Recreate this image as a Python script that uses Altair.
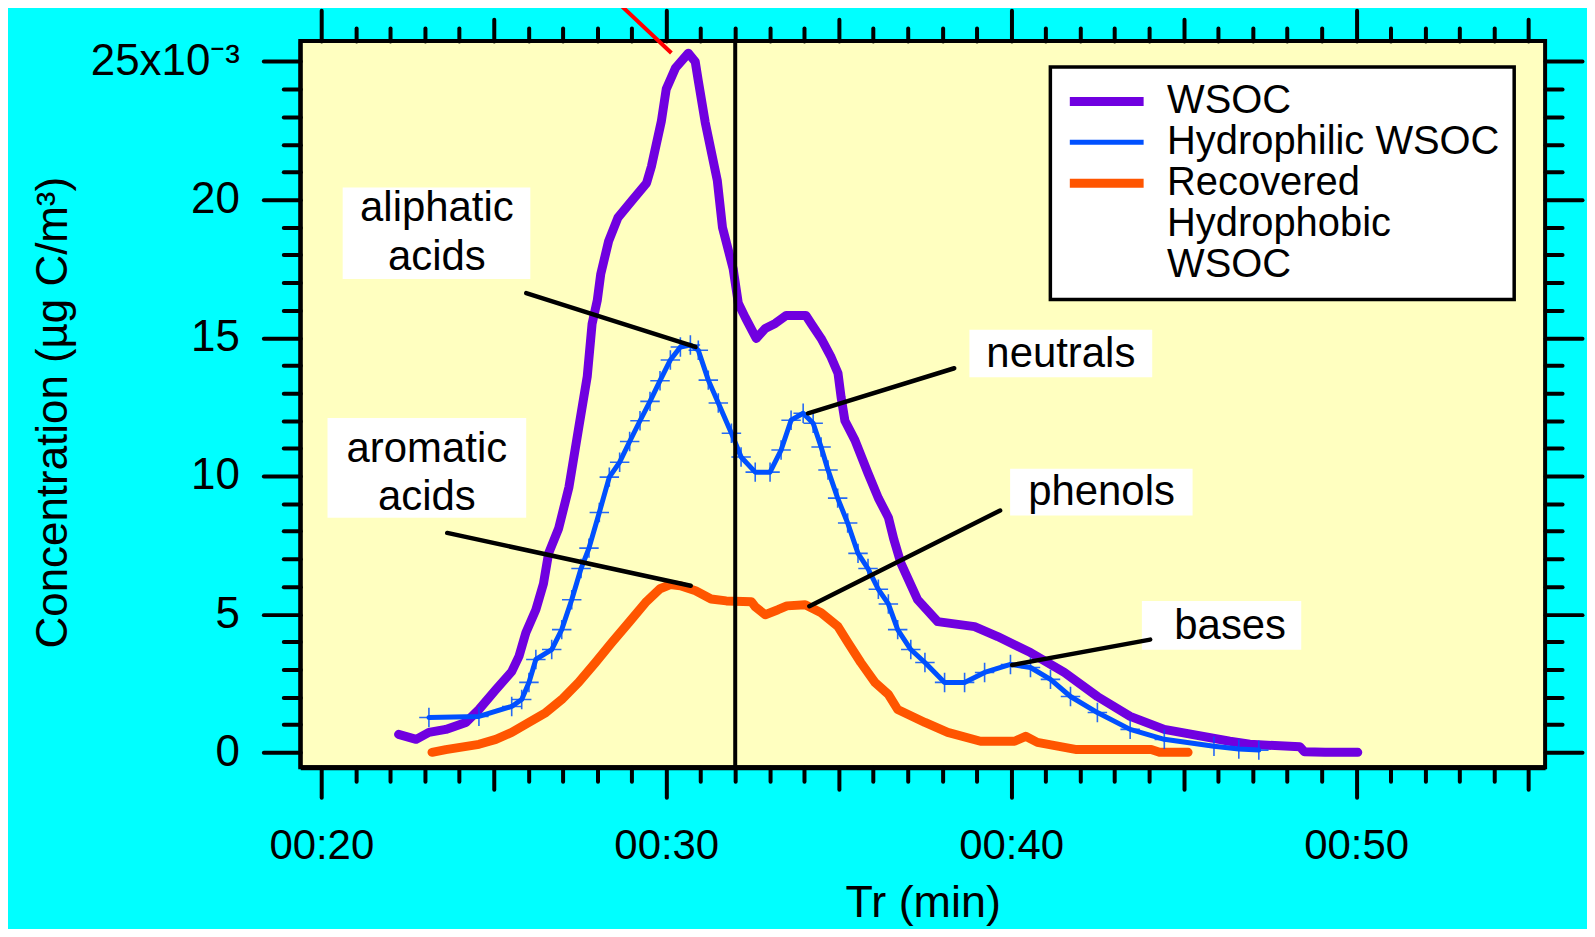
import altair as alt
import pandas as pd

# ---------------- data (minutes, 10^-3 ug C/m3) ----------------
wsoc_t = [22.24, 22.75, 23.12, 23.61, 24.19, 24.57, 25.06, 25.52, 25.73, 25.93, 26.22, 26.44, 26.59, 26.88,
          27.18, 27.47, 27.71, 27.85, 28.0, 28.1, 28.33, 28.6, 29.0, 29.43, 29.57, 29.86, 30.0, 30.27, 30.64,
          30.84, 30.93, 31.13, 31.48, 31.63, 31.94, 32.09, 32.29, 32.61, 32.87, 33.16, 33.48, 34.05, 34.2,
          34.49, 34.78, 34.98, 35.07, 35.18, 35.47, 35.85, 36.15, 36.44, 36.6, 36.8, 37.29, 37.87, 38.94,
          39.61, 40.56, 41.54, 42.5, 43.45, 44.44, 46.34, 46.92, 48.37, 48.5, 49.1, 50.05]
wsoc_c = [0.65, 0.47, 0.72, 0.83, 1.08, 1.55, 2.27, 2.92, 3.47, 4.33, 5.16, 6.1, 7.2, 8.1,
          9.6, 11.8, 13.6, 15.5, 16.35, 17.3, 18.5, 19.35, 19.96, 20.6, 21.2, 22.85, 24.0, 24.77, 25.3,
          25.0, 24.3, 22.8, 20.7, 19.0, 17.5, 16.25, 15.74, 14.98, 15.34, 15.52, 15.81, 15.81, 15.52,
          14.98, 14.3, 13.72, 12.85, 12.0, 11.3, 10.1, 9.2, 8.5, 7.7, 6.86, 5.52, 4.73, 4.55,
          4.19, 3.61, 2.89, 2.02, 1.3, 0.83, 0.4, 0.29, 0.2, 0.02, 0.0, 0.0]

hydro_t = [23.12, 24.57, 25.52, 25.81, 26.02, 26.22, 26.68, 26.97, 27.26, 27.53, 27.76, 28.06, 28.35, 28.65,
           28.94, 29.24, 29.53, 29.82, 30.12, 30.41, 30.7, 30.93, 31.22, 31.51, 31.89, 32.17, 32.58, 33.01,
           33.33, 33.62, 33.97, 34.26, 34.49, 34.69, 34.97, 35.26, 35.56, 35.85, 36.15, 36.44, 36.71, 37.09,
           37.5, 38.07, 38.65, 39.23, 39.98, 40.56, 41.14, 41.72, 42.5, 43.45, 44.44, 45.88, 46.6, 47.18]
hydro_c = [1.26, 1.3, 1.66, 1.91, 2.53, 3.36, 3.72, 4.44, 5.52, 6.65, 7.39, 8.68, 9.96, 10.5,
           11.25, 12.0, 12.7, 13.45, 14.2, 14.67, 14.74, 14.55, 13.47, 12.64, 11.55, 10.69, 10.14, 10.14,
           10.94, 12.02, 12.27, 11.91, 11.05, 10.22, 9.2, 8.3, 7.2, 6.65, 5.9, 5.37, 4.44, 3.72,
           3.25, 2.53, 2.53, 2.89, 3.18, 3.07, 2.64, 2.02, 1.44, 0.83, 0.47, 0.22, 0.12, 0.08]

recov_t = [23.21, 23.61, 24.57, 25.06, 25.52, 26.02, 26.51, 26.97, 27.46, 27.95, 28.42, 28.91, 29.4, 29.82,
           30.12, 30.41, 30.85, 31.3, 31.74, 32.47, 32.58, 32.87, 33.24, 33.5, 34.03, 34.49, 34.98, 35.27,
           35.64, 36.05, 36.44, 36.71, 37.5, 38.16, 39.11, 40.1, 40.42, 40.76, 41.9, 44.06, 44.3, 45.13]
recov_c = [0.0, 0.1, 0.29, 0.47, 0.72, 1.08, 1.44, 1.91, 2.53, 3.25, 3.97, 4.69, 5.42, 5.92,
           6.07, 6.03, 5.85, 5.55, 5.48, 5.45, 5.27, 4.98, 5.16, 5.3, 5.34, 5.05, 4.55, 3.97,
           3.25, 2.53, 2.1, 1.55, 1.08, 0.72, 0.4, 0.4, 0.58, 0.36, 0.1, 0.1, 0.0, 0.0]

series_names = ["WSOC", "Hydrophilic WSOC", "Recovered"]
legend_domain = ["WSOC", "Hydrophilic WSOC", "Recovered", " Hydrophobic", " WSOC"]
legend_colors = ["#7000E0", "#0050FF", "#FF5500", "transparent", "transparent"]
legend_widths = [9, 5, 9, 0, 0]

# annotations
ann_labels = ["aliphatic\nacids", "aromatic\nacids", "neutrals", "phenols", "bases"]
ann_tx = [23.35, 23.06, 41.44, 42.62, 46.35]
ann_ty = [19.71, 10.99, 14.41, 9.41, 4.56]
box_x1 = [20.62, 20.18, 38.79, 39.97, 43.79]
box_x2 = [26.06, 25.94, 44.09, 45.26, 48.41]
box_y1 = [20.44, 12.10, 15.29, 10.26, 5.48]
box_y2 = [17.13, 8.49, 13.57, 8.57, 3.71]
ptr_x1 = [25.94, 23.65, 38.35, 39.68, 44.03]
ptr_y1 = [16.62, 7.94, 13.9, 8.75, 4.08]
ptr_x2 = [30.85, 30.71, 34.11, 34.15, 40.03]
ptr_y2 = [14.67, 6.03, 12.27, 5.29, 3.16]
red_x = [28.56, 30.15]
red_y = [27.18, 25.31]
vline_x = [32]

x_major = [20, 30, 40, 50]
x_mid = [25, 35, 45, 55]
x_minor = [i for i in range(21, 55) if i % 5 != 0]
y_major = [0, 5, 10, 15, 20, 25]
y_minor = [i for i in range(1, 25) if i % 5 != 0]

# ---------------- tables ----------------
curves = pd.concat([
    pd.DataFrame({"t": wsoc_t, "c": wsoc_c, "series": series_names[0]}),
    pd.DataFrame({"t": hydro_t, "c": hydro_c, "series": series_names[1]}),
    pd.DataFrame({"t": recov_t, "c": recov_c, "series": series_names[2]}),
], ignore_index=True)
ann_df = pd.DataFrame({"label": ann_labels, "tx": ann_tx, "ty": ann_ty,
                       "bx1": box_x1, "bx2": box_x2, "by1": box_y1, "by2": box_y2,
                       "px1": ptr_x1, "py1": ptr_y1, "px2": ptr_x2, "py2": ptr_y2})
red_df = pd.DataFrame({"x1": [red_x[0]], "y1": [red_y[0]], "x2": [red_x[1]], "y2": [red_y[1]]})
vline_df = pd.DataFrame({"vx": vline_x})

FONT = "Liberation Sans"
xs = alt.Scale(domain=[19.39, 55.48], nice=False, zero=False)
ys = alt.Scale(domain=[-0.54, 25.74], nice=False, zero=False)


def ax(orient, values, size, **kw):
    base = dict(orient=orient, values=values, tickSize=size, tickWidth=4, tickColor="black",
                tickCap="round", grid=False, domain=False, labels=False, title=None)
    base.update(kw)
    return alt.Axis(**base)


bottom_major = ax("bottom", x_major, 30, labels=True,
                  labelExpr="'00:' + format(datum.value, '02d')", labelFont=FONT, labelFontSize=42,
                  labelColor="black", labelPadding=28, labelFlush=False, labelOverlap=False,
                  title="Tr (min)", titleFont=FONT, titleFontSize=45, titleFontWeight="normal",
                  titleColor="black", titleX=624, titleY=136, titleAlign="center", titleBaseline="middle",
                  domain=True, domainColor="black", domainWidth=5)
bottom_mid = ax("bottom", x_mid, 22)
bottom_minor = ax("bottom", x_minor, 14)
top_major = ax("top", x_major, 31)
top_mid = ax("top", x_mid, 22)
top_minor = ax("top", x_minor, 13)
left_major = ax("left", y_major, 37, labels=True,
                labelExpr="datum.value == 25 ? '25x10\u207b\u00b3' : datum.label",
                labelFont=FONT, labelFontSize=44, labelColor="black", labelPadding=24,
                labelFlush=False, labelOverlap=False,
                title="Concentration (\u00b5g C/m\u00b3)", titleFont=FONT, titleFontSize=44,
                titleFontWeight="normal", titleColor="black", titleX=-247, titleY=372,
                titleAngle=270, titleAlign="center", titleBaseline="middle",
                domain=True, domainColor="black", domainWidth=4)
left_minor = ax("left", y_minor, 17)
right_major = ax("right", y_major, 37)
right_minor = ax("right", y_minor, 17)

leg = alt.Legend(title=None, orient="none", legendX=752, legendY=26, symbolType="stroke",
                 symbolSize=5476, clipHeight=41, rowPadding=0, padding=14, fillColor="white",
                 strokeColor="black", labelFont=FONT, labelFontSize=40, labelColor="black",
                 labelExpr="trim(datum.label)", labelOffset=19, symbolOffset=1, labelLimit=1000)
color_enc = alt.Color("series:N", scale=alt.Scale(domain=legend_domain, range=legend_colors), legend=leg)
width_enc = alt.StrokeWidth("series:N", scale=alt.Scale(type="ordinal", domain=legend_domain,
                                                         range=legend_widths), legend=leg)


def curve(name, xaxis, yaxis):
    return alt.Chart(curves).transform_filter(alt.datum.series == name).mark_line(
        strokeCap="round", strokeJoin="round").encode(
        x=alt.X("t:Q", scale=xs, axis=xaxis),
        y=alt.Y("c:Q", scale=ys, axis=yaxis),
        color=color_enc, strokeWidth=width_enc)


wsoc = curve("WSOC", bottom_major, left_major)
recov = curve("Recovered", bottom_mid, left_minor)
hydro = curve("Hydrophilic WSOC", bottom_minor, right_major)

cross = alt.Chart(curves).transform_filter(alt.datum.series == "Hydrophilic WSOC").mark_point(
    shape="M-1,0H1M0,-1V1", filled=False, size=380, strokeWidth=1.6, color="#0050FF", opacity=0.85).encode(
    x=alt.X("t:Q", scale=xs, axis=top_major),
    y=alt.Y("c:Q", scale=ys, axis=right_minor))

boxes = alt.Chart(ann_df).mark_rect(color="white").encode(
    x=alt.X("bx1:Q", scale=xs, axis=top_mid), x2="bx2:Q",
    y=alt.Y("by1:Q", scale=ys, axis=None), y2="by2:Q")

texts = alt.Chart(ann_df).mark_text(font=FONT, fontSize=42, lineBreak="\n", lineHeight=49,
                                    color="black", align="center", baseline="middle").encode(
    x=alt.X("tx:Q", scale=xs, axis=top_minor),
    y=alt.Y("ty:Q", scale=ys, axis=None),
    text="label:N")

vline = alt.Chart(vline_df).mark_rule(color="black", strokeWidth=4).encode(
    x=alt.X("vx:Q", scale=xs, axis=None))

pointers = alt.Chart(ann_df).mark_rule(color="black", strokeWidth=4.5, strokeCap="round").encode(
    x=alt.X("px1:Q", scale=xs, axis=None), y=alt.Y("py1:Q", scale=ys, axis=None),
    x2="px2:Q", y2="py2:Q")

red = alt.Chart(red_df).mark_rule(color="#FF0000", strokeWidth=4).encode(
    x=alt.X("x1:Q", scale=xs, axis=None), y=alt.Y("y1:Q", scale=ys, axis=None),
    x2="x2:Q", y2="y2:Q")

chart = alt.layer(boxes, texts, wsoc, recov, hydro, cross, vline, pointers, red).resolve_axis(
    x="independent", y="independent").properties(
    width=1248, height=728,
    autosize=alt.AutoSizeParams(type="none"),
    padding={"left": 293, "top": 32, "right": 42, "bottom": 161},
    background="#00FFFF",
).configure_view(fill="#FFFFC0", stroke="black", strokeWidth=4).configure_legend(strokeWidth=3.5)

chart.save("out.html", embed_options={"renderer": "svg", "actions": False})
